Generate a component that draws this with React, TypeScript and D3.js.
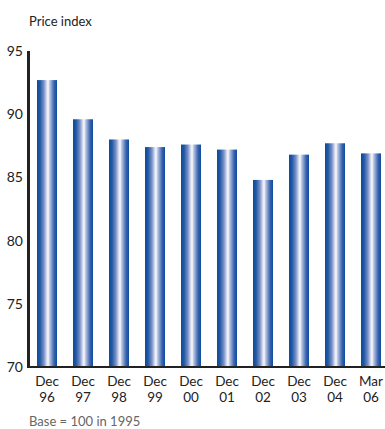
import React from "react";
import * as d3 from "d3";

const categories = ["Dec 96", "Dec 97", "Dec 98", "Dec 99", "Dec 00", "Dec 01", "Dec 02", "Dec 03", "Dec 04", "Mar 06"];
const priceIndex = [92.7, 89.6, 88.0, 87.4, 87.6, 87.2, 84.8, 86.8, 87.7, 86.9];
const yTicks = [70, 75, 80, 85, 90, 95];
const yLabel = "Price index";
const footnote = "Base = 100 in 1995";

const W = 385;
const H = 429;
const font = "Lato, 'Open Sans', sans-serif";

export default function App() {
  const x = d3
    .scaleBand<string>()
    .domain(categories)
    .range([29, 389])
    .paddingInner(0.444)
    .paddingOuter(0.222);
  const y = d3.scaleLinear().domain([70, 95]).range([367, 51]);

  return (
    <svg
      width={W}
      height={H}
      style={{ position: "absolute", left: 0, top: 0, background: "#fff" }}
    >
      <defs>
        <linearGradient id="barGrad" x1="0" x2="1" y1="0" y2="0">
          <stop offset="0%" stopColor="#0d4a9b" />
          <stop offset="15%" stopColor="#1f58a6" />
          <stop offset="35%" stopColor="#7d92c8" />
          <stop offset="50%" stopColor="#e2e7f4" />
          <stop offset="56%" stopColor="#f7f8fc" />
          <stop offset="62%" stopColor="#c3cce6" />
          <stop offset="85%" stopColor="#3a64b0" />
          <stop offset="100%" stopColor="#0d4a9b" />
        </linearGradient>
      </defs>

      <text x={29} y={26} fontFamily={font} fontSize={13} fill="#222">
        {yLabel}
      </text>

      {categories.map((c, i) => (
        <rect
          key={c}
          x={x(c)}
          y={y(priceIndex[i])}
          width={x.bandwidth()}
          height={y(70) - y(priceIndex[i])}
          fill="url(#barGrad)"
        />
      ))}

      {yTicks.map((t) => (
        <text
          key={t}
          x={23}
          y={y(t)}
          dy="0.35em"
          textAnchor="end"
          fontFamily={font}
          fontSize={14}
          fill="#222"
        >
          {t}
        </text>
      ))}

      <line x1={28.5} x2={28.5} y1={y(95)} y2={y(70) + 1} stroke="#222" strokeWidth={3} />
      <line x1={27} x2={W} y1={y(70)} y2={y(70)} stroke="#222" strokeWidth={2} />

      {categories.map((c) => {
        const [m, yr] = c.split(" ");
        const cx = (x(c) ?? 0) + x.bandwidth() / 2;
        return (
          <g key={c} fontFamily={font} fontSize={13.5} fill="#222" textAnchor="middle">
            <text x={cx} y={386}>{m}</text>
            <text x={cx} y={402}>{yr}</text>
          </g>
        );
      })}

      <text x={29} y={426} fontFamily={font} fontSize={13} fill="#666">
        {footnote}
      </text>
    </svg>
  );
}
